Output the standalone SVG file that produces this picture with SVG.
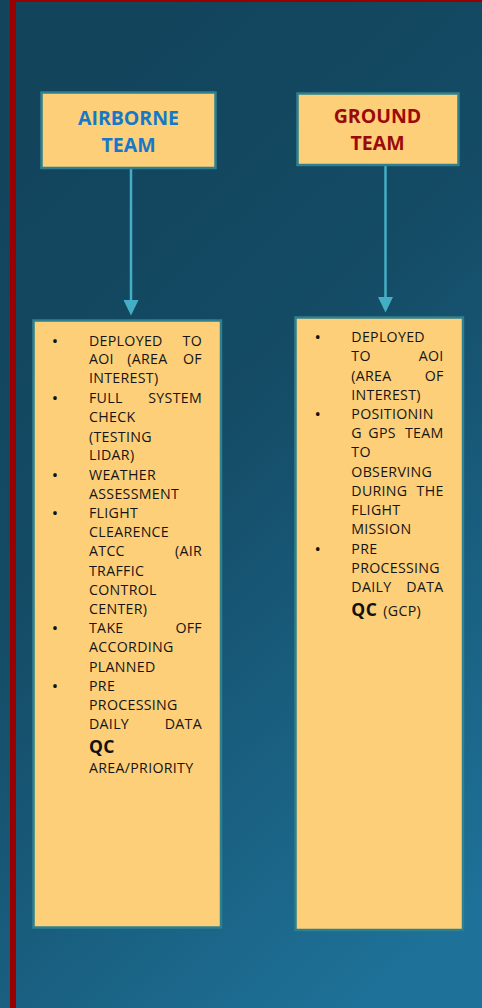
<svg xmlns="http://www.w3.org/2000/svg" width="482" height="1008" viewBox="0 0 482 1008">
<defs>
<linearGradient id="bg" x1="0.3" y1="0" x2="0.75" y2="1">
<stop offset="0" stop-color="#12445c"/>
<stop offset="0.4" stop-color="#144b65"/>
<stop offset="1" stop-color="#1e7198"/>
</linearGradient>
<style>
.box{fill:#fdcf79;stroke:#2f808e;stroke-width:2.5}
.hd{font-family:"Open Sans","Liberation Sans",sans-serif;font-weight:bold;font-size:19.5px;text-anchor:middle}
.t{font-family:"Open Sans","Liberation Sans",sans-serif;font-size:14.2px;letter-spacing:0.3px;fill:#151515}
.e{text-anchor:end}
.b{font-family:"Open Sans","Liberation Sans",sans-serif;font-size:17px;fill:#111;text-anchor:middle}
.qc{font-family:"Open Sans","Liberation Sans",sans-serif;font-size:17.5px;font-weight:bold;letter-spacing:0.4px;fill:#111}
.conn{stroke:#44afc4;stroke-width:2.5;fill:none}
.ah{fill:#44afc4}
</style>
</defs>
<rect x="0" y="0" width="482" height="1008" fill="url(#bg)"/>
<rect x="10" y="0" width="6" height="1008" fill="#990000"/>
<rect x="10" y="0" width="472" height="2" fill="#990000"/>

<g id="connectors">
<line class="conn" x1="131" y1="169" x2="131" y2="302"/>
<path class="ah" d="M123.5,300 L138.5,300 L131,315.5 Z"/>
<line class="conn" x1="385.5" y1="165" x2="385.5" y2="299"/>
<path class="ah" d="M378,297 L393,297 L385.5,312.5 Z"/>
</g>

<g id="airborne">
<rect class="box" x="41.5" y="92.5" width="174" height="75.5"/>
<text class="hd" x="128.5" y="124.7" fill="#1778c8">AIRBORNE</text>
<text class="hd" x="128.5" y="151.7" fill="#1778c8">TEAM</text>
</g>

<g id="ground">
<rect class="box" x="297.5" y="93.5" width="161" height="71.5"/>
<text class="hd" x="377.5" y="122.7" fill="#9a0a0a">GROUND</text>
<text class="hd" x="377.5" y="150" fill="#9a0a0a">TEAM</text>
</g>

<g id="airborne-tasks">
<rect class="box" x="33.5" y="320.5" width="187.5" height="607"/>
<text class="b" x="55" y="346.5">•</text>
<text class="t" x="89" y="345.7">DEPLOYED</text><text class="t e" x="202" y="345.7">TO</text>
<text class="t" x="89" y="364">AOI</text><text class="t" x="127.3" y="364">(AREA</text><text class="t e" x="202" y="364">OF</text>
<text class="t" x="89" y="383.3">INTEREST)</text>
<text class="b" x="55" y="404.1">•</text>
<text class="t" x="89" y="403.3">FULL</text><text class="t e" x="202" y="403.3">SYSTEM</text>
<text class="t" x="89" y="422.3">CHECK</text>
<text class="t" x="89" y="441.7">(TESTING</text>
<text class="t" x="89" y="460">LIDAR)</text>
<text class="b" x="55" y="480.8">•</text>
<text class="t" x="89" y="480">WEATHER</text>
<text class="t" x="89" y="499">ASSESSMENT</text>
<text class="b" x="55" y="519.1">•</text>
<text class="t" x="89" y="518.3">FLIGHT</text>
<text class="t" x="89" y="537.3">CLEARENCE</text>
<text class="t" x="89" y="556">ATCC</text><text class="t e" x="202" y="556">(AIR</text>
<text class="t" x="89" y="575.7">TRAFFIC</text>
<text class="t" x="89" y="595">CONTROL</text>
<text class="t" x="89" y="614">CENTER)</text>
<text class="b" x="55" y="634.1">•</text>
<text class="t" x="89" y="633.3">TAKE</text><text class="t e" x="202" y="633.3">OFF</text>
<text class="t" x="89" y="652.3">ACCORDING</text>
<text class="t" x="89" y="671.7">PLANNED</text>
<text class="b" x="55" y="691.8">•</text>
<text class="t" x="89" y="691">PRE</text>
<text class="t" x="89" y="710">PROCESSING</text>
<text class="t" x="89" y="729">DAILY</text><text class="t e" x="202" y="729">DATA</text>
<text class="qc" x="89" y="752.7">QC</text>
<text class="t" x="89" y="773.3">AREA/PRIORITY</text>
</g>

<g id="ground-tasks">
<rect class="box" x="295.5" y="317.5" width="167.5" height="612.5"/>
<text class="b" x="317.7" y="342.5">•</text>
<text class="t" x="351.3" y="341.7">DEPLOYED</text>
<text class="t" x="351.3" y="360.7">TO</text><text class="t e" x="443.6" y="360.7">AOI</text>
<text class="t" x="351.3" y="380.7">(AREA</text><text class="t e" x="443.6" y="380.7">OF</text>
<text class="t" x="351.3" y="400">INTEREST)</text>
<text class="b" x="317.7" y="420.1">•</text>
<text class="t" x="351.3" y="419.3">POSITIONIN</text>
<text class="t" x="351.3" y="438.3">G</text><text class="t" x="368.3" y="438.3">GPS</text><text class="t e" x="443.6" y="438.3">TEAM</text>
<text class="t" x="351.3" y="456.7">TO</text>
<text class="t" x="351.3" y="476.7">OBSERVING</text>
<text class="t" x="351.3" y="496">DURING</text><text class="t e" x="443.6" y="496">THE</text>
<text class="t" x="351.3" y="515">FLIGHT</text>
<text class="t" x="351.3" y="534">MISSION</text>
<text class="b" x="317.7" y="554.8">•</text>
<text class="t" x="351.3" y="554">PRE</text>
<text class="t" x="351.3" y="572.7">PROCESSING</text>
<text class="t" x="351.3" y="592.3">DAILY</text><text class="t e" x="443.6" y="592.3">DATA</text>
<text class="qc" x="351.3" y="615.5">QC</text><text class="t" x="383.3" y="615.5">(GCP)</text>
</g>
</svg>
